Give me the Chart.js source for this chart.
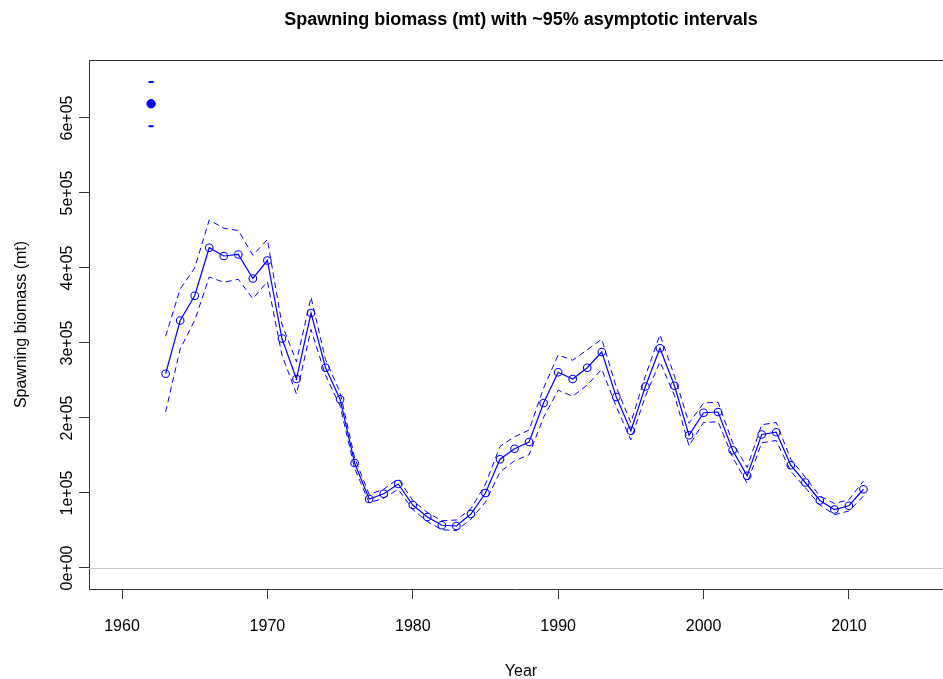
<!DOCTYPE html>
<html>
<head>
<meta charset="utf-8">
<script src="https://cdn.jsdelivr.net/npm/chart.js@4/dist/chart.umd.min.js"></script>
<style>
  html, body { margin: 0; padding: 0; background: #fff; overflow: hidden; }
  #wrap { width: 943px; height: 679px; position: relative; }
</style>
</head>
<body>
<div id="wrap"><canvas id="ssbChart" width="943" height="679"></canvas></div>
<script>
// spawning biomass series, 1963-2011
const years = [
  1963, 1964, 1965, 1966, 1967, 1968, 1969, 1970, 1971, 1972,
  1973, 1974, 1975, 1976, 1977, 1978, 1979, 1980, 1981, 1982,
  1983, 1984, 1985, 1986, 1987, 1988, 1989, 1990, 1991, 1992,
  1993, 1994, 1995, 1996, 1997, 1998, 1999, 2000, 2001, 2002,
  2003, 2004, 2005, 2006, 2007, 2008, 2009, 2010, 2011
];
const ssb = [
  259000, 330000, 363000, 427000, 416000, 418000, 386000, 410000, 306000, 252000,
  340000, 267000, 225000, 140000, 92000, 99000, 112000, 84000, 68000, 57000,
  56000, 72000, 100000, 145000, 159000, 168000, 220000, 261000, 252000, 267000,
  288000, 228000, 183000, 242000, 293000, 243000, 177000, 207000, 208000, 157000,
  123000, 178000, 181000, 137000, 114000, 90000, 78000, 83000, 105000
];
const ssbUpper = [
  309000, 372000, 400000, 464000, 453000, 450000, 417000, 438000, 325000, 275000,
  361000, 278000, 234000, 147000, 98000, 105000, 119000, 90000, 74000, 63000,
  64000, 79000, 112000, 162000, 175000, 184000, 240000, 284000, 277000, 291000,
  305000, 241000, 194000, 256000, 311000, 256000, 193000, 220000, 221000, 167000,
  134000, 191000, 194000, 145000, 121000, 96000, 86000, 91000, 116000
];
const ssbLower = [
  208000, 292000, 330000, 388000, 381000, 385000, 359000, 382000, 284000, 232000,
  318000, 257000, 216000, 133000, 87000, 93000, 105000, 78000, 62000, 51000,
  50000, 65000, 88000, 128000, 143000, 151000, 201000, 237000, 229000, 244000,
  265000, 215000, 171000, 229000, 275000, 230000, 163000, 194000, 195000, 148000,
  113000, 167000, 170000, 129000, 107000, 84000, 71000, 76000, 96000
];

// virgin (unfished) biomass with its interval
const virginYear = 1962;
const virginValue = 619000;
const virginUpper = 648000;
const virginLower = 589000;

const xTicks = [1960, 1970, 1980, 1990, 2000, 2010];
const yTicks = [0, 100000, 200000, 300000, 400000, 500000, 600000];
const yTickLabels = ['0e+00', '1e+05', '2e+05', '3e+05', '4e+05', '5e+05', '6e+05'];

const BLUE = '#0000ff';
const AXIS = '#333333';
const FONT = '"Liberation Sans", Arial, sans-serif';
// the plot region runs a little past the right edge of the page
const X_CENTER = 1987.44;

const pts = (xs, ys) => xs.map((x, i) => ({ x: x, y: ys[i] }));

// extra drawing: frame top, zero line, rotated y labels, titles
const rStyle = {
  id: 'rStyle',
  beforeDatasetsDraw(chart) {
    const { ctx, chartArea, scales } = chart;
    const y0 = Math.round(scales.y.getPixelForValue(0)) + 0.5;
    ctx.save();
    ctx.strokeStyle = '#c8c8c8';
    ctx.lineWidth = 1;
    ctx.beginPath();
    ctx.moveTo(chartArea.left, y0);
    ctx.lineTo(chartArea.right, y0);
    ctx.stroke();
    ctx.restore();
  },
  afterDraw(chart) {
    const { ctx, chartArea, scales } = chart;
    ctx.save();
    ctx.strokeStyle = AXIS;
    ctx.lineWidth = 1;
    ctx.beginPath();
    ctx.moveTo(chartArea.left, chartArea.top + 0.5);
    ctx.lineTo(chartArea.right, chartArea.top + 0.5);
    ctx.stroke();

    ctx.fillStyle = '#000';
    ctx.font = '16px ' + FONT;
    ctx.textAlign = 'center';
    ctx.textBaseline = 'alphabetic';
    yTicks.forEach((v, i) => {
      const py = scales.y.getPixelForValue(v);
      ctx.save();
      ctx.translate(72, py);
      ctx.rotate(-Math.PI / 2);
      ctx.fillText(yTickLabels[i], 0, 0);
      ctx.restore();
    });

    ctx.save();
    ctx.translate(26, (chartArea.top + chartArea.bottom) / 2);
    ctx.rotate(-Math.PI / 2);
    ctx.fillText('Spawning biomass (mt)', 0, 0);
    ctx.restore();

    const cx = scales.x.getPixelForValue(X_CENTER);
    ctx.fillText('Year', cx, 676);

    ctx.font = 'bold 18px ' + FONT;
    ctx.fillText('Spawning biomass (mt) with ~95% asymptotic intervals', cx, 25);
    ctx.restore();
  }
};

new Chart(document.getElementById('ssbChart').getContext('2d'), {
  type: 'line',
  data: {
    datasets: [
      {
        label: 'Spawning biomass',
        data: pts(years, ssb),
        borderColor: BLUE,
        borderWidth: 1.2,
        pointRadius: 3.8,
        pointBorderWidth: 1.1,
        pointBackgroundColor: 'rgba(0,0,0,0)',
        pointBorderColor: BLUE,
        tension: 0
      },
      {
        label: 'Upper 95%',
        data: pts(years, ssbUpper),
        borderColor: BLUE,
        borderWidth: 1,
        borderDash: [6, 4],
        pointRadius: 0,
        tension: 0
      },
      {
        label: 'Lower 95%',
        data: pts(years, ssbLower),
        borderColor: BLUE,
        borderWidth: 1,
        borderDash: [6, 4],
        pointRadius: 0,
        tension: 0
      },
      {
        label: 'Virgin',
        data: [{ x: virginYear, y: virginValue }],
        showLine: false,
        pointStyle: 'circle',
        pointRadius: 4.2,
        pointBackgroundColor: BLUE,
        pointBorderColor: BLUE,
        pointBorderWidth: 1
      },
      {
        label: 'Virgin interval',
        data: [{ x: virginYear, y: virginUpper }, { x: virginYear, y: virginLower }],
        showLine: false,
        pointStyle: 'line',
        pointRadius: 2.5,
        pointBorderWidth: 2,
        pointBorderColor: BLUE
      }
    ]
  },
  options: {
    responsive: false,
    animation: false,
    layout: { autoPadding: false, padding: { top: 60, right: 0, left: 0, bottom: 0 } },
    plugins: {
      legend: { display: false },
      title: { display: false },
      tooltip: { enabled: false }
    },
    scales: {
      x: {
        type: 'linear',
        min: 1957.73,
        max: 2016.47,
        afterBuildTicks: (scale) => { scale.ticks = xTicks.map(v => ({ value: v })); },
        afterFit: (scale) => {
          scale.height = 90;
          scale.paddingLeft = 0;
          scale.paddingRight = 0;
        },
        grid: { drawOnChartArea: false, tickLength: 10, color: AXIS },
        border: { color: AXIS },
        ticks: {
          color: '#000',
          font: { family: FONT, size: 16 },
          padding: 18,
          maxRotation: 0,
          autoSkip: false,
          callback: (v) => String(v)
        }
      },
      y: {
        type: 'linear',
        min: -28000,
        max: 677333,
        afterBuildTicks: (scale) => { scale.ticks = yTicks.map(v => ({ value: v })); },
        afterFit: (scale) => {
          scale.width = 89;
          scale.paddingTop = 0;
          scale.paddingBottom = 0;
        },
        grid: { drawOnChartArea: false, tickLength: 10, color: AXIS },
        border: { color: AXIS },
        ticks: { color: 'rgba(0,0,0,0)', font: { size: 1 }, callback: () => '' }
      }
    }
  },
  plugins: [rStyle]
});
</script>
</body>
</html>
